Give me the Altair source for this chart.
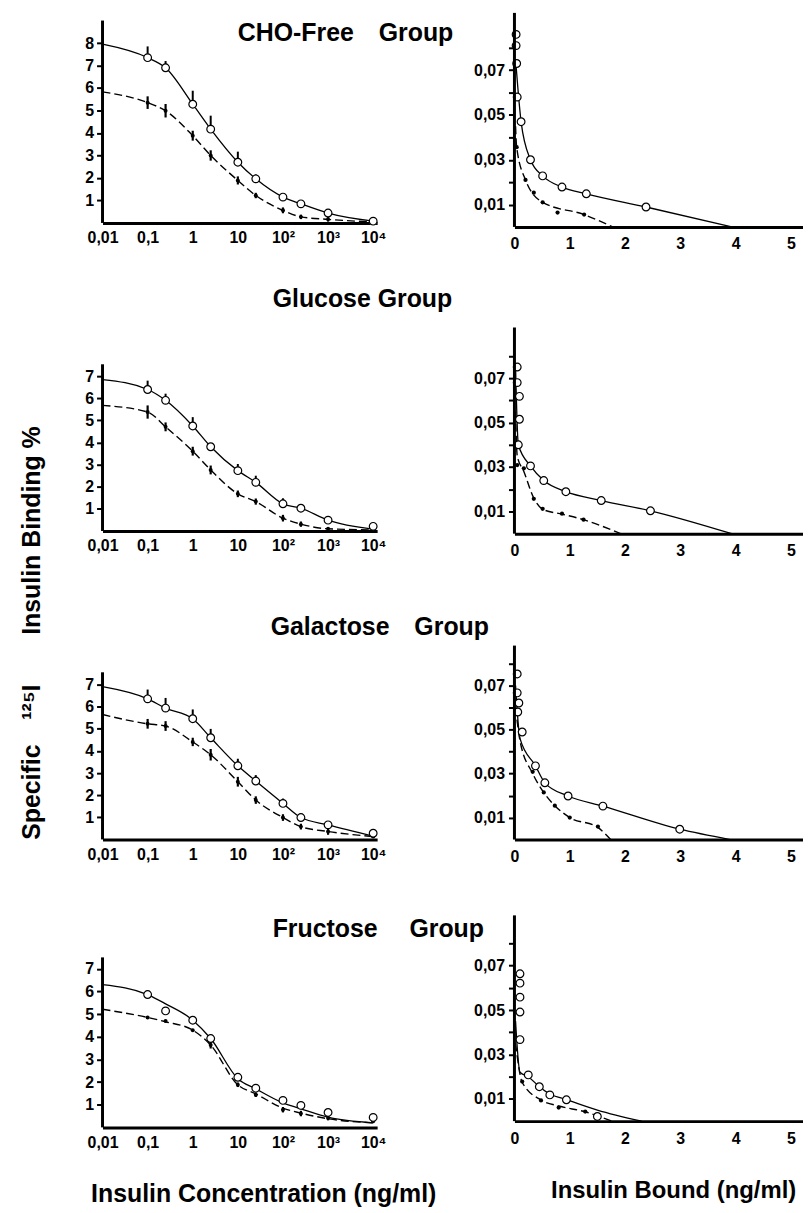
import math
import altair as alt
import pandas as pd

# ------------------------------------------------------------------ data
group_names = ["CHO-Free\u2003Group", "Glucose Group", "Galactose\u2003Group", "Fructose\u2003 Group"]

# competition curves (left): insulin concentration (ng/ml) vs specific 125I-insulin binding %
conc = [0.1, 0.25, 1, 2.5, 10, 25, 100, 250, 1000, 10000]
curve_conc = [0.01, 0.1, 0.25, 1, 2.5, 10, 25, 100, 250, 1000, 10000]

open_bind = [
    [7.35, 6.90, 5.28, 4.17, 2.70, 1.96, 1.15, 0.85, 0.44, 0.08],
    [6.40, 5.91, 4.75, 3.81, 2.73, 2.20, 1.23, 1.03, 0.49, 0.21],
    [6.36, 5.94, 5.46, 4.60, 3.33, 2.64, 1.63, 0.99, 0.66, 0.28],
    [5.86, 5.14, 4.73, 3.92, 2.21, 1.73, 1.19, 0.97, 0.66, 0.44],
]
open_err = [
    [0.50, 0.30, 0.60, 0.60, 0.47, 0.20, 0.00, 0.00, 0.00, 0.00],
    [0.40, 0.30, 0.40, 0.10, 0.30, 0.30, 0.25, 0.15, 0.00, 0.00],
    [0.42, 0.46, 0.42, 0.40, 0.32, 0.27, 0.22, 0.10, 0.00, 0.00],
    [0.00, 0.00, 0.00, 0.00, 0.00, 0.00, 0.00, 0.00, 0.00, 0.00],
]
open_curve = [
    [7.95, 7.35, 6.90, 5.28, 4.17, 2.70, 1.96, 1.15, 0.85, 0.44, 0.08],
    [6.85, 6.40, 5.91, 4.75, 3.81, 2.73, 2.20, 1.23, 1.03, 0.49, 0.08],
    [6.91, 6.36, 5.94, 5.46, 4.60, 3.33, 2.64, 1.63, 0.99, 0.66, 0.15],
    [6.30, 5.86, 5.45, 4.73, 3.92, 2.15, 1.70, 1.08, 0.82, 0.45, 0.20],
]
filled_bind = [
    [5.35, 4.99, 3.88, 3.00, 1.89, 1.22, 0.56, 0.27, 0.16, 0.04],
    [5.38, 4.71, 3.61, 2.76, 1.68, 1.33, 0.58, 0.31, 0.10, 0.05],
    [5.23, 5.13, 4.41, 3.83, 2.61, 1.78, 0.99, 0.58, 0.36, 0.13],
    [4.85, 4.69, 4.29, 3.63, 1.88, 1.44, 0.78, 0.61, 0.41, 0.27],
]
filled_err = [
    [0.28, 0.30, 0.22, 0.23, 0.18, 0.12, 0.13, 0.10, 0.10, 0.00],
    [0.30, 0.20, 0.20, 0.20, 0.15, 0.14, 0.15, 0.12, 0.05, 0.00],
    [0.22, 0.22, 0.19, 0.26, 0.22, 0.17, 0.15, 0.13, 0.15, 0.00],
    [0.00, 0.00, 0.00, 0.15, 0.10, 0.10, 0.12, 0.12, 0.10, 0.00],
]
filled_curve = [
    [5.83, 5.35, 4.99, 3.88, 3.00, 1.89, 1.22, 0.56, 0.27, 0.16, 0.04],
    [5.68, 5.38, 4.71, 3.61, 2.76, 1.68, 1.33, 0.58, 0.31, 0.10, 0.05],
    [5.65, 5.23, 5.13, 4.41, 3.83, 2.61, 1.78, 0.99, 0.58, 0.36, 0.13],
    [5.21, 4.85, 4.66, 4.29, 3.63, 1.88, 1.48, 0.85, 0.63, 0.38, 0.20],
]

# Scatchard plots (right): insulin bound (ng/ml) vs bound/free
sc_open_x = [
    [0.03, 0.03, 0.04, 0.05, 0.12, 0.29, 0.51, 0.86, 1.30, 2.38],
    [0.05, 0.05, 0.09, 0.09, 0.07, 0.29, 0.53, 0.93, 1.57, 2.46],
    [0.05, 0.05, 0.08, 0.06, 0.14, 0.38, 0.55, 0.97, 1.60, 2.99],
    [0.10, 0.10, 0.10, 0.10, 0.10, 0.25, 0.45, 0.64, 0.94, 1.50],
]
sc_open_y = [
    [0.086, 0.081, 0.073, 0.058, 0.047, 0.030, 0.0228, 0.0178, 0.0148, 0.0089],
    [0.075, 0.068, 0.0618, 0.0515, 0.040, 0.0305, 0.0239, 0.0189, 0.0149, 0.0103],
    [0.0753, 0.0667, 0.0621, 0.058, 0.0489, 0.0335, 0.0258, 0.0198, 0.0152, 0.0047],
    [0.0663, 0.0621, 0.0558, 0.0491, 0.0367, 0.0208, 0.0155, 0.0118, 0.0096, 0.0021],
]
sc_open_curve_x = [
    [0.02, 0.12, 0.29, 0.51, 0.86, 1.30, 2.38, 3.93],
    [0.02, 0.07, 0.29, 0.53, 0.93, 1.57, 2.46, 3.93],
    [0.02, 0.10, 0.38, 0.55, 0.97, 1.60, 2.99, 3.90],
    [0.02, 0.10, 0.25, 0.45, 0.64, 0.94, 1.50, 2.30],
]
sc_open_curve_y = [
    [0.075, 0.047, 0.030, 0.0228, 0.0178, 0.0148, 0.0089, 0.0],
    [0.075, 0.040, 0.0305, 0.0239, 0.0189, 0.0149, 0.0103, 0.0],
    [0.070, 0.046, 0.0335, 0.0258, 0.0198, 0.0152, 0.0047, 0.0],
    [0.045, 0.022, 0.0200, 0.0155, 0.0122, 0.0097, 0.0050, 0.0],
]
sc_filled_x = [
    [0.04, 0.20, 0.35, 0.51, 0.78, 1.26],
    [0.05, 0.17, 0.35, 0.51, 0.86, 1.25],
    [0.33, 0.53, 0.73, 1.00, 1.51],
    [0.14, 0.48, 0.80, 1.28],
]
sc_filled_y = [
    [0.0356, 0.021, 0.0153, 0.011, 0.0064, 0.0055],
    [0.0309, 0.0294, 0.0157, 0.0112, 0.009, 0.0063],
    [0.0308, 0.0214, 0.0154, 0.010, 0.0059],
    [0.0178, 0.0093, 0.0061, 0.0043],
]
sc_filled_curve_x = [
    [0.02, 0.04, 0.20, 0.51, 1.26, 1.78],
    [0.02, 0.05, 0.17, 0.35, 0.51, 0.86, 1.25, 1.92],
    [0.02, 0.10, 0.33, 0.53, 0.73, 1.00, 1.51, 1.74],
    [0.02, 0.14, 0.48, 0.80, 1.28, 1.76],
]
sc_filled_curve_y = [
    [0.045, 0.0356, 0.021, 0.011, 0.0055, 0.0],
    [0.055, 0.035, 0.028, 0.016, 0.011, 0.0088, 0.0063, 0.0],
    [0.060, 0.045, 0.030, 0.0214, 0.0154, 0.010, 0.0055, 0.0],
    [0.035, 0.0175, 0.0095, 0.0068, 0.0042, 0.0],
]

# tick values / labels
left_xticks = [0.01, 0.1, 1, 10, 100, 1000, 10000]
left_xlabels = ["0,01", "0,1", "1", "10", "10\u00b2", "10\u00b3", "10\u2074"]
left_yticks = [[1, 2, 3, 4, 5, 6, 7, 8], [1, 2, 3, 4, 5, 6, 7], [1, 2, 3, 4, 5, 6, 7], [1, 2, 3, 4, 5, 6, 7]]
right_xticks = [0, 1, 2, 3, 4, 5]
right_yticks = [0.01, 0.02, 0.03, 0.04, 0.05, 0.06, 0.07, 0.08]
right_ylabels = ["0,01", "", "0,03", "", "0,05", "", "0,07", ""]
left_axis_top = [9.0, 7.54, 7.56, 7.5]
right_axis_top = [0.0956, 0.0928, 0.0882, 0.0926]

y_title = "Specific\u2003\u00b9\u00b2\u2075I\u2003\u2003Insulin Binding %"
x_title_left = "Insulin Concentration (ng/ml)"
x_title_right = "Insulin Bound (ng/ml)"

# ------------------------------------------------------------------ layout (pixels)
FONT = "Liberation Sans"
LEFT_W, RIGHT_W = 276, 290
LEFT_XMAX = 12250.0
RIGHT_XMAX = 5.22
left_h = [211, 234.6, 235.6, 218]
left_ppu = [22.6, 22.22, 22.22, 22.78]
right_h = [215, 237.3, 235.7, 211.7]
right_ppu = [2250, 2233, 2210, 2233]
title_dx = [-278, -243, -245, -243]      # relative to the right panel's left edge
title_base = [28, 9, 29.7, 27]           # baseline below the row top


def label_expr(vals, texts, log=False):
    parts = []
    for v, t in zip(vals, texts):
        if log:
            cond = f"abs(log(datum.value)/LN10 - ({math.log10(v)})) < 0.01"
        else:
            cond = f"abs(datum.value - ({v})) < 0.000001"
        parts.append(f"{cond} ? '{t}'")
    return " : ".join(parts) + " : ''"


def left_panel(i):
    xs = alt.Scale(type="log", domain=[0.01, LEFT_XMAX], nice=False)
    ys = alt.Scale(domain=[0, left_h[i] / left_ppu[i]], nice=False, zero=False)
    xkw = dict(values=left_xticks, labelExpr=label_expr(left_xticks, left_xlabels, log=True),
               ticks=False, tickSize=0, labelPadding=7, labelFlush=False, labelOverlap=False,
               domainWidth=3, domainColor="black", grid=False)
    if i == 3:
        xa = alt.Axis(title=x_title_left, titleX=161.5, titleY=74, titleAlign="center",
                      titleBaseline="alphabetic", titleFontSize=25, **xkw)
    else:
        xa = alt.Axis(title=None, **xkw)
    ykw = dict(values=left_yticks[i], format="d", domain=False, tickSize=6, tickWidth=2,
               labelPadding=3, grid=False)
    if i == 2:
        ya = alt.Axis(title=y_title, titleX=-71.5, titleY=27.7, titleAngle=270,
                      titleAlign="center", titleBaseline="middle", titleFontSize=25, **ykw)
    else:
        ya = alt.Axis(title=None, **ykw)

    def X(f):
        return alt.X(f, type="quantitative", scale=xs, axis=xa)

    def Y(f):
        return alt.Y(f, type="quantitative", scale=ys, axis=ya)

    cur_o = pd.DataFrame({"c": curve_conc, "b": open_curve[i]})
    cur_f = pd.DataFrame({"c": curve_conc, "b": filled_curve[i]})
    pts_o = pd.DataFrame({"c": conc, "b": open_bind[i], "e": open_err[i]})
    pts_f = pd.DataFrame({"c": conc, "b": filled_bind[i], "e": filled_err[i]})
    pts_o["top"] = pts_o["b"] + pts_o["e"]
    pts_f["lo"] = pts_f["b"] - pts_f["e"]
    pts_f["hi"] = pts_f["b"] + pts_f["e"]
    err_o = pts_o[pts_o["e"] > 0]
    err_f = pts_f[pts_f["e"] > 0]
    axis_df = pd.DataFrame({"c": [0.01], "b": [0.0], "t": [left_axis_top[i]]})

    layers = [
        alt.Chart(cur_o).mark_line(interpolate="monotone", color="black", strokeWidth=1.3)
        .encode(x=X("c"), y=Y("b")),
        alt.Chart(cur_f).mark_line(interpolate="monotone", color="black", strokeWidth=1.4,
                                   strokeDash=[8, 4]).encode(x=X("c"), y=Y("b")),
        alt.Chart(err_o).mark_rule(color="black", strokeWidth=2)
        .encode(x=X("c"), y=Y("b"), y2=alt.Y2("top")),
        alt.Chart(err_f).mark_rule(color="black", strokeWidth=2.2)
        .encode(x=X("c"), y=Y("lo"), y2=alt.Y2("hi")),
        alt.Chart(pts_f).mark_circle(color="black", size=16, opacity=1)
        .encode(x=X("c"), y=Y("b")),
        alt.Chart(pts_o).mark_point(shape="circle", filled=True, fill="white", stroke="black",
                                    strokeWidth=1.2, size=60, opacity=1)
        .encode(x=X("c"), y=Y("b")),
        alt.Chart(axis_df).mark_rule(color="black", strokeWidth=3)
        .encode(x=X("c"), y=Y("b"), y2=alt.Y2("t")),
    ]
    return alt.layer(*layers).properties(width=LEFT_W, height=left_h[i])


def right_panel(i):
    xs = alt.Scale(domain=[0, RIGHT_XMAX], nice=False, zero=False)
    ys = alt.Scale(domain=[0, right_h[i] / right_ppu[i]], nice=False, zero=False)
    xkw = dict(values=right_xticks, format="d", ticks=False, tickSize=0, labelPadding=9,
               labelFlush=False, labelOverlap=False, domainWidth=3, domainColor="black", grid=False)
    if i == 3:
        xa = alt.Axis(title=x_title_right, titleX=159.5, titleY=77, titleAlign="center",
                      titleBaseline="alphabetic", titleFontSize=24, **xkw)
    else:
        xa = alt.Axis(title=None, **xkw)
    ya = alt.Axis(title=None, values=right_yticks, labelExpr=label_expr(right_yticks, right_ylabels),
                  domain=False, tickSize=6, tickWidth=2, labelPadding=4, grid=False)

    def X(f):
        return alt.X(f, type="quantitative", scale=xs, axis=xa)

    def Y(f):
        return alt.Y(f, type="quantitative", scale=ys, axis=ya)

    cur_o = pd.DataFrame({"x": sc_open_curve_x[i], "y": sc_open_curve_y[i]})
    cur_f = pd.DataFrame({"x": sc_filled_curve_x[i], "y": sc_filled_curve_y[i]})
    pts_o = pd.DataFrame({"x": sc_open_x[i], "y": sc_open_y[i]})
    pts_f = pd.DataFrame({"x": sc_filled_x[i], "y": sc_filled_y[i]})
    axis_df = pd.DataFrame({"x": [0.0], "y": [0.0], "t": [right_axis_top[i]]})
    name_df = pd.DataFrame({"name": [group_names[i]]})

    layers = [
        alt.Chart(cur_o).mark_line(interpolate="monotone", color="black", strokeWidth=1.3)
        .encode(x=X("x"), y=Y("y")),
        alt.Chart(cur_f).mark_line(interpolate="monotone", color="black", strokeWidth=1.4,
                                   strokeDash=[8, 4]).encode(x=X("x"), y=Y("y")),
        alt.Chart(pts_f).mark_circle(color="black", size=18, opacity=1)
        .encode(x=X("x"), y=Y("y")),
        alt.Chart(pts_o).mark_point(shape="circle", filled=True, fill="white", stroke="black",
                                    strokeWidth=1.2, size=60, opacity=1)
        .encode(x=X("x"), y=Y("y")),
        alt.Chart(axis_df).mark_rule(color="black", strokeWidth=3)
        .encode(x=X("x"), y=Y("y"), y2=alt.Y2("t")),
        # group heading
        alt.Chart(name_df).mark_text(align="left", baseline="alphabetic", font=FONT, fontSize=25,
                                     fontWeight="bold", color="black")
        .encode(text="name:N", x=alt.value(title_dx[i]), y=alt.value(title_base[i])),
    ]
    return alt.layer(*layers).properties(width=RIGHT_W, height=right_h[i])


panels = []
for r in range(4):
    panels.append(left_panel(r))
    panels.append(right_panel(r))

chart = (
    alt.ConcatChart(concat=panels, columns=2, spacing={"row": 71, "column": 138}, bounds="flush")
    .resolve_scale(x="independent", y="independent")
    .properties(padding={"left": 11, "top": 0, "right": 0, "bottom": 0}, background="white")
    .configure_view(strokeWidth=0)
    .configure_axis(labelFont=FONT, labelFontSize=16, labelFontWeight="bold", labelColor="black",
                    titleFont=FONT, titleFontWeight="bold", titleColor="black",
                    domainColor="black", tickColor="black", grid=False)
)

chart.save("out.html", embed_options={"renderer": "svg", "actions": False})
